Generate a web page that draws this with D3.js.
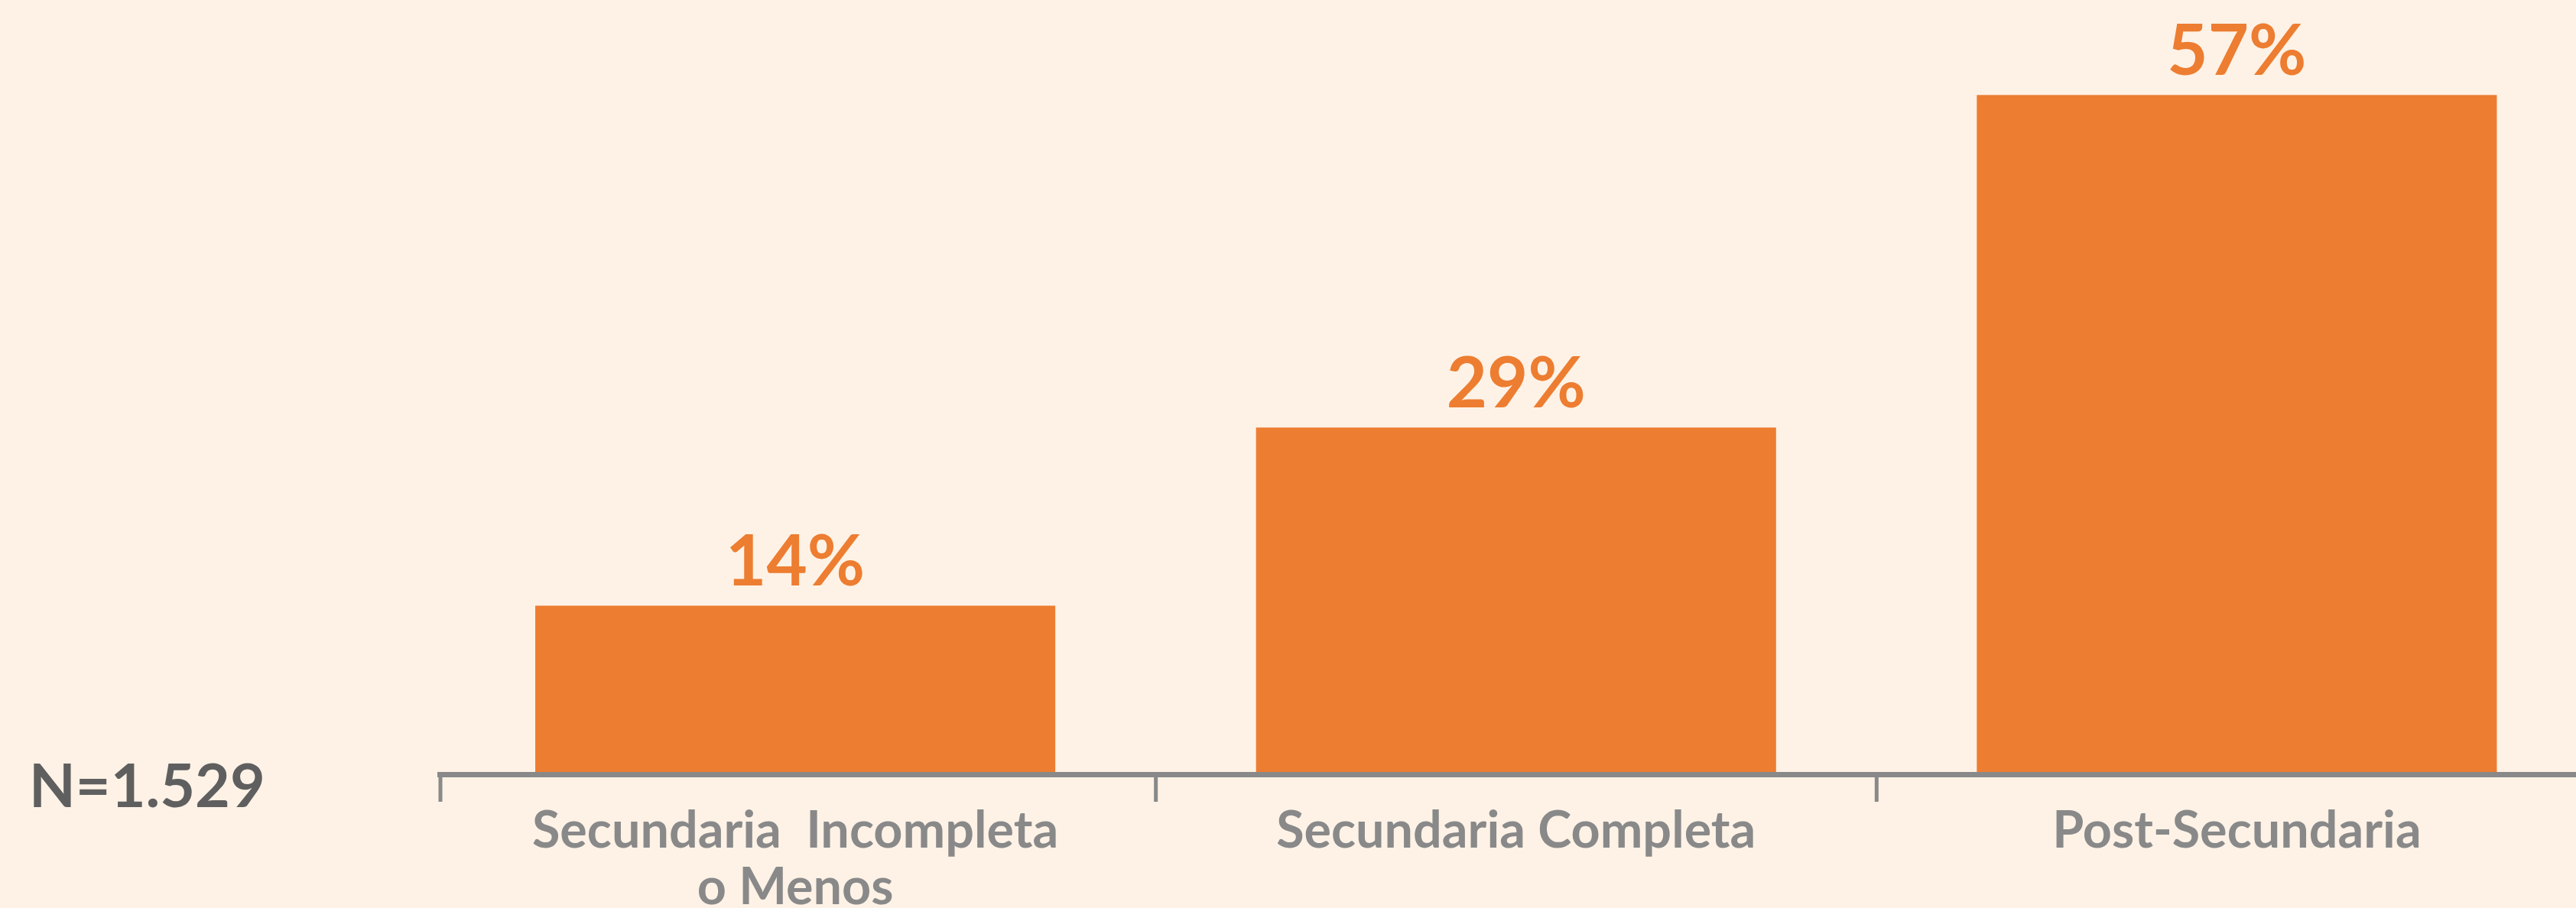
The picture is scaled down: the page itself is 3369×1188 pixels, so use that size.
<!DOCTYPE html>
<html>
<head>
<meta charset="utf-8">
<script src="https://cdn.jsdelivr.net/npm/d3@7"></script>
<style>
  html, body { margin: 0; padding: 0; background: #FEF2E6; }
  svg { display: block; font-family: Lato, sans-serif; }
  .cat-label { fill: #898989; font-weight: 700; font-size: 66.5px; }
  .val-label { fill: #ED7D31; font-weight: 700; font-size: 92px; }
  .n-label { fill: #5F5F5F; font-weight: 700; font-size: 79px; }
</style>
</head>
<body>
<div id="chart"></div>
<script>
// data
const categories = ['Secundaria  Incompleta\no Menos', 'Secundaria Completa', 'Post-Secundaria'];
const values = [14, 29, 57];
const valueLabels = ['14%', '29%', '57%'];
const sampleNote = 'N=1.529';

const W = 3369, H = 1188;
const margin = {top: 0, left: 569, bottom: 178};
const step = 942.5;

const svg = d3.select('#chart').append('svg')
    .attr('width', W)
    .attr('height', H);

svg.append('rect').attr('width', W).attr('height', H).attr('fill', '#FEF2E6');

const x = d3.scaleBand()
    .domain(categories)
    .range([margin.left, margin.left + step * categories.length])
    .paddingInner(0.2785)
    .paddingOuter(0.139);

const y = d3.scaleLinear()
    .domain([0, 65])
    .range([H - margin.bottom, margin.top]);

const base = y(0);

// bars
svg.selectAll('.bar').data(values)
    .enter()
    .append('rect')
    .attr('class', 'bar')
    .attr('x', (d, i) => x(categories[i]))
    .attr('y', d => y(d))
    .attr('width', x.bandwidth())
    .attr('height', d => base - y(d) + 1)
    .attr('fill', '#ED7D31');

// value labels
svg.selectAll('.val-label').data(values)
    .enter()
    .append('text')
    .attr('class', 'val-label')
    .attr('x', (d, i) => x(categories[i]) + x.bandwidth() / 2)
    .attr('y', d => y(d) - 26)
    .attr('text-anchor', 'middle')
    .text((d, i) => valueLabels[i]);

// axis line + ticks at band boundaries
svg.append('rect')
    .attr('x', 572)
    .attr('y', base)
    .attr('width', W - 572 + 10)
    .attr('height', 7)
    .attr('fill', '#898989');

svg.selectAll('.tick').data(categories)
    .enter()
    .append('rect')
    .attr('class', 'tick')
    .attr('x', (d, i) => Math.max(x(d) - x.step() * x.paddingOuter(), 576) - 2.5)
    .attr('y', base + 7)
    .attr('width', 5)
    .attr('height', 32)
    .attr('fill', '#898989');

// category labels
const cat = svg.selectAll('.cat-label').data(categories)
    .enter()
    .append('text')
    .attr('class', 'cat-label')
    .attr('text-anchor', 'middle')
    .attr('xml:space', 'preserve')
    .style('white-space', 'pre')
    .attr('x', d => x(d) + x.bandwidth() / 2)
    .attr('y', base + 99);

cat.selectAll('tspan')
    .data(d => d.split('\n'))
    .enter()
    .append('tspan')
    .attr('x', function() { return this.parentNode.getAttribute('x'); })
    .attr('dy', (d, i) => i === 0 ? 0 : 74)
    .text(d => d);

svg.append('text')
    .attr('class', 'n-label')
    .attr('x', 38)
    .attr('y', 1056)
    .text(sampleNote);
</script>
</body>
</html>
